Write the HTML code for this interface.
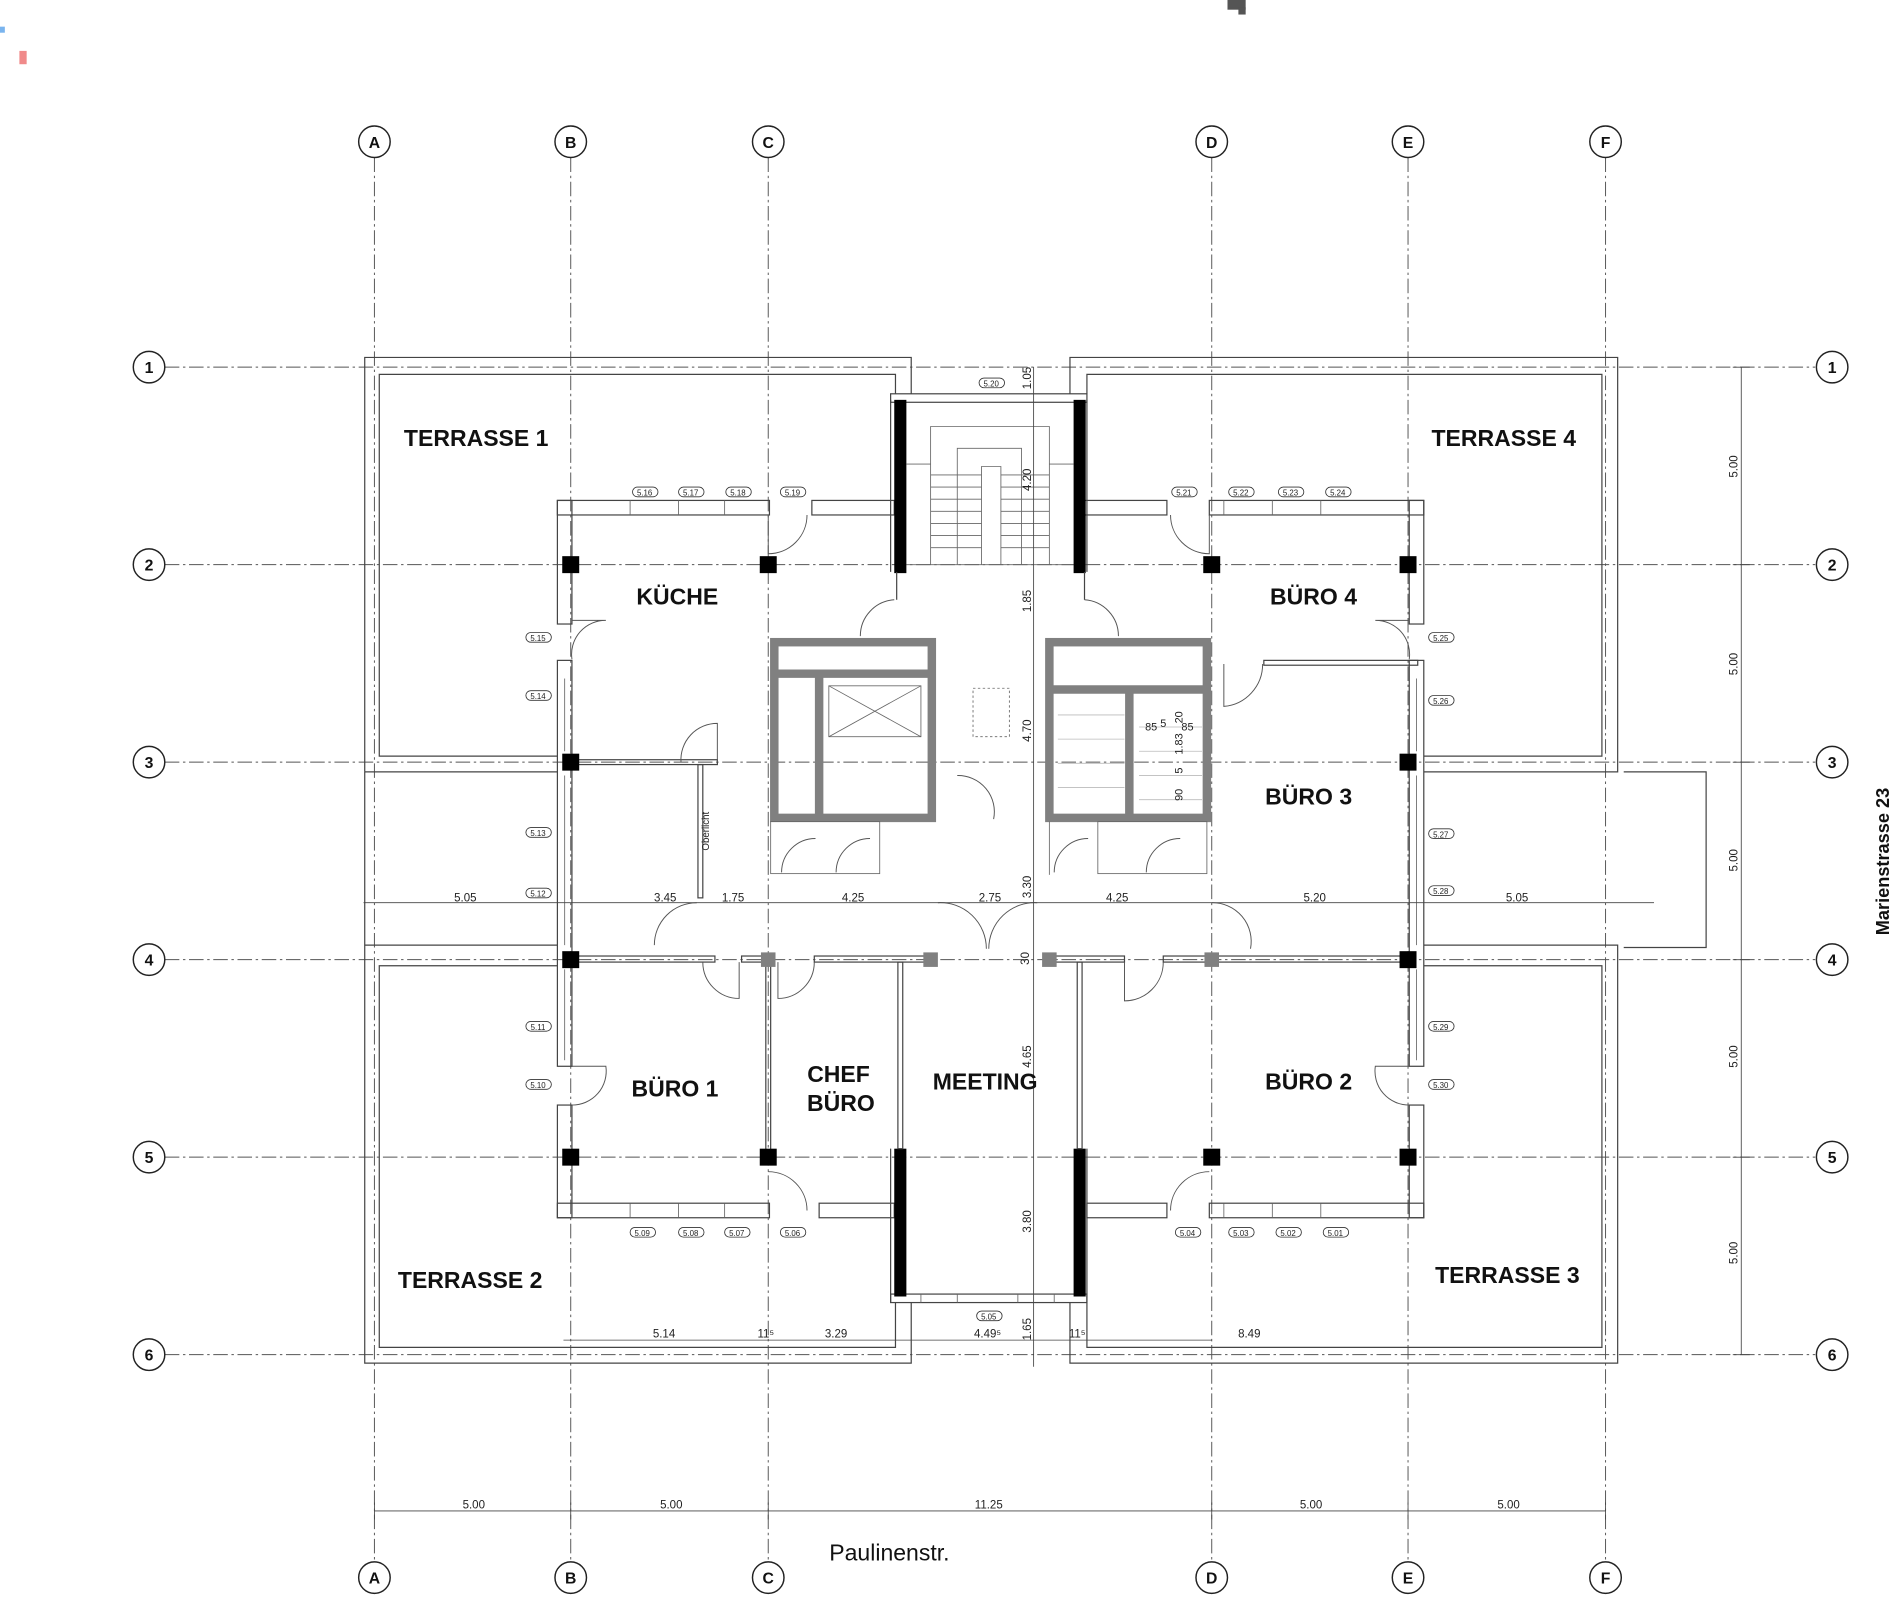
<!DOCTYPE html>
<html><head><meta charset="utf-8"><style>
html,body{margin:0;padding:0;background:#fff;}
svg{display:block}
.g{stroke:#555;stroke-width:.8;stroke-dasharray:12 3 2 3;fill:none}
.b{fill:#fff;stroke:#222;stroke-width:1.2}
.bt{font:bold 13px "Liberation Sans",sans-serif;text-anchor:middle;fill:#111}
.w{fill:none;stroke:#444;stroke-width:1}
.wt{fill:none;stroke:#666;stroke-width:.7}
.rl{font:bold 19px "Liberation Sans",sans-serif;text-anchor:middle;fill:#111}
.d{font:9.5px "Liberation Sans",sans-serif;text-anchor:middle;fill:#222}
.tag{fill:#fff;stroke:#333;stroke-width:.7}
.tt{font:6.5px "Liberation Sans",sans-serif;text-anchor:middle;fill:#222}
.dl{stroke:#444;stroke-width:.7;fill:none}
.dr{fill:none;stroke:#555;stroke-width:.8}
.col{fill:#000}
.gc{fill:#808080}
</style></head><body>
<svg width="1900" height="1597" viewBox="0 0 1568 1318" preserveAspectRatio="none" xmlns="http://www.w3.org/2000/svg">
<rect x="0" y="0" width="1568" height="1318" fill="#fff"/>
<rect x="0" y="22" width="4" height="5" fill="#7ab4ee"/>
<rect x="16" y="42" width="6" height="11" fill="#f08a8a"/>
<rect x="1013" y="0" width="15" height="8" fill="#555"/><rect x="1022" y="6" width="6" height="6" fill="#555"/>

<!-- grid -->
<g class="g">
<line x1="309" y1="130" x2="309" y2="1290"/><line x1="471" y1="130" x2="471" y2="1290"/>
<line x1="634" y1="130" x2="634" y2="1290"/><line x1="1000" y1="130" x2="1000" y2="1290"/>
<line x1="1162" y1="130" x2="1162" y2="1290"/><line x1="1325" y1="130" x2="1325" y2="1290"/>
<line x1="136" y1="303" x2="1498" y2="303"/><line x1="136" y1="466" x2="1498" y2="466"/>
<line x1="136" y1="629" x2="1498" y2="629"/><line x1="136" y1="792" x2="1498" y2="792"/>
<line x1="136" y1="955" x2="1498" y2="955"/><line x1="136" y1="1118" x2="1498" y2="1118"/>
</g>
<g>
<circle class="b" cx="309" cy="117" r="13"/><text class="bt" x="309" y="122">A</text>
<circle class="b" cx="471" cy="117" r="13"/><text class="bt" x="471" y="122">B</text>
<circle class="b" cx="634" cy="117" r="13"/><text class="bt" x="634" y="122">C</text>
<circle class="b" cx="1000" cy="117" r="13"/><text class="bt" x="1000" y="122">D</text>
<circle class="b" cx="1162" cy="117" r="13"/><text class="bt" x="1162" y="122">E</text>
<circle class="b" cx="1325" cy="117" r="13"/><text class="bt" x="1325" y="122">F</text>
<circle class="b" cx="309" cy="1302" r="13"/><text class="bt" x="309" y="1307">A</text>
<circle class="b" cx="471" cy="1302" r="13"/><text class="bt" x="471" y="1307">B</text>
<circle class="b" cx="634" cy="1302" r="13"/><text class="bt" x="634" y="1307">C</text>
<circle class="b" cx="1000" cy="1302" r="13"/><text class="bt" x="1000" y="1307">D</text>
<circle class="b" cx="1162" cy="1302" r="13"/><text class="bt" x="1162" y="1307">E</text>
<circle class="b" cx="1325" cy="1302" r="13"/><text class="bt" x="1325" y="1307">F</text>
<circle class="b" cx="123" cy="303" r="13"/><text class="bt" x="123" y="308">1</text>
<circle class="b" cx="123" cy="466" r="13"/><text class="bt" x="123" y="471">2</text>
<circle class="b" cx="123" cy="629" r="13"/><text class="bt" x="123" y="634">3</text>
<circle class="b" cx="123" cy="792" r="13"/><text class="bt" x="123" y="797">4</text>
<circle class="b" cx="123" cy="955" r="13"/><text class="bt" x="123" y="960">5</text>
<circle class="b" cx="123" cy="1118" r="13"/><text class="bt" x="123" y="1123">6</text>
<circle class="b" cx="1512" cy="303" r="13"/><text class="bt" x="1512" y="308">1</text>
<circle class="b" cx="1512" cy="466" r="13"/><text class="bt" x="1512" y="471">2</text>
<circle class="b" cx="1512" cy="629" r="13"/><text class="bt" x="1512" y="634">3</text>
<circle class="b" cx="1512" cy="792" r="13"/><text class="bt" x="1512" y="797">4</text>
<circle class="b" cx="1512" cy="955" r="13"/><text class="bt" x="1512" y="960">5</text>
<circle class="b" cx="1512" cy="1118" r="13"/><text class="bt" x="1512" y="1123">6</text>
</g>

<!-- terraces -->
<g class="w">
<polyline points="301,637 301,295 752,295 752,325"/>
<polyline points="460,624 313,624 313,309 739,309 739,325"/>
<polyline points="301,637 460,637"/>
<polyline points="301,637 301,1125 752,1125 752,1075"/>
<polyline points="460,797 313,797 313,1112 739,1112 739,1075"/>
<polyline points="301,780 460,780"/>
<polyline points="883,325 883,295 1335,295 1335,637 1175,637"/>
<polyline points="897,325 897,309 1322,309 1322,624 1175,624"/>
<polyline points="883,1075 883,1125 1335,1125 1335,780 1175,780"/>
<polyline points="897,1075 897,1112 1322,1112 1322,797 1175,797"/>
<polyline points="1340,637 1408,637 1408,782 1340,782"/>
</g>

<!-- exterior walls -->
<g class="w">
<rect x="460" y="413" width="175" height="12"/><rect x="670" y="413" width="68" height="12"/>
<rect x="895" y="413" width="68" height="12"/><rect x="998" y="413" width="177" height="12"/>
<rect x="460" y="413" width="12" height="102"/><rect x="460" y="545" width="12" height="335"/><rect x="460" y="912" width="12" height="93"/>
<rect x="1163" y="413" width="12" height="102"/><rect x="1163" y="545" width="12" height="335"/><rect x="1163" y="912" width="12" height="93"/>
<rect x="460" y="993" width="175" height="12"/><rect x="676" y="993" width="62" height="12"/>
<rect x="897" y="993" width="66" height="12"/><rect x="998" y="993" width="177" height="12"/>
<rect x="735" y="325" width="162" height="7"/>
<rect x="735" y="1068" width="162" height="7"/>
<line x1="735" y1="330" x2="735" y2="472"/><line x1="897" y1="330" x2="897" y2="472"/>
<line x1="735" y1="948" x2="735" y2="1075"/><line x1="897" y1="948" x2="897" y2="1075"/>
</g>
<g class="wt">
<line x1="520" y1="413" x2="520" y2="425"/><line x1="560" y1="413" x2="560" y2="425"/><line x1="598" y1="413" x2="598" y2="425"/>
<line x1="1010" y1="413" x2="1010" y2="425"/><line x1="1050" y1="413" x2="1050" y2="425"/><line x1="1090" y1="413" x2="1090" y2="425"/>
<line x1="520" y1="993" x2="520" y2="1005"/><line x1="560" y1="993" x2="560" y2="1005"/><line x1="598" y1="993" x2="598" y2="1005"/>
<line x1="1010" y1="993" x2="1010" y2="1005"/><line x1="1050" y1="993" x2="1050" y2="1005"/><line x1="1090" y1="993" x2="1090" y2="1005"/>
<line x1="466" y1="560" x2="466" y2="620"/><line x1="466" y1="640" x2="466" y2="780"/><line x1="466" y1="800" x2="466" y2="875"/>
<line x1="1169" y1="560" x2="1169" y2="620"/><line x1="1169" y1="640" x2="1169" y2="780"/><line x1="1169" y1="800" x2="1169" y2="875"/>
<line x1="760" y1="1068" x2="760" y2="1075"/><line x1="790" y1="1068" x2="790" y2="1075"/><line x1="840" y1="1068" x2="840" y2="1075"/><line x1="870" y1="1068" x2="870" y2="1075"/>
</g>
<!-- black walls -->
<rect class="col" x="738" y="330" width="10" height="143"/>
<rect class="col" x="886" y="330" width="10" height="143"/>
<rect class="col" x="738" y="948" width="10" height="122"/>
<rect class="col" x="886" y="948" width="10" height="122"/>

<!-- stairs -->
<g class="wt">
<polyline points="768,466 768,352 866,352 866,466"/>
<polyline points="790,466 790,370 843,370 843,466"/>
<polyline points="810,466 810,385 826,385 826,466"/>
<line x1="748" y1="383" x2="768" y2="383"/><line x1="866" y1="383" x2="886" y2="383"/>
<line x1="768" y1="392" x2="810" y2="392"/><line x1="768" y1="402" x2="810" y2="402"/><line x1="768" y1="412" x2="810" y2="412"/>
<line x1="768" y1="422" x2="810" y2="422"/><line x1="768" y1="432" x2="810" y2="432"/><line x1="768" y1="442" x2="810" y2="442"/><line x1="768" y1="452" x2="810" y2="452"/>
<line x1="826" y1="392" x2="866" y2="392"/><line x1="826" y1="402" x2="866" y2="402"/><line x1="826" y1="412" x2="866" y2="412"/>
<line x1="826" y1="422" x2="866" y2="422"/><line x1="826" y1="432" x2="866" y2="432"/><line x1="826" y1="442" x2="866" y2="442"/><line x1="826" y1="452" x2="866" y2="452"/>
<line x1="748" y1="466" x2="886" y2="466"/>
</g>

<!-- core boxes -->
<g fill="none" stroke="#808080" stroke-width="7">
<rect x="639" y="530" width="130" height="145"/>
<line x1="639" y1="556" x2="769" y2="556"/><line x1="676" y1="556" x2="676" y2="675"/>
<rect x="866" y="530" width="130" height="145"/>
<line x1="866" y1="569" x2="996" y2="569"/><line x1="932" y1="569" x2="932" y2="675"/>
</g>
<g class="wt">
<rect x="684" y="566" width="76" height="42"/><line x1="684" y1="566" x2="760" y2="608"/><line x1="760" y1="566" x2="684" y2="608"/>
<rect x="803" y="568" width="30" height="40" stroke-dasharray="2 2"/>
<rect x="636" y="678" width="90" height="43"/><rect x="906" y="678" width="90" height="43"/>
<line x1="866" y1="678" x2="866" y2="722"/>
<path d="M873 590h55M873 610h55M873 630h55M873 650h55M940 600h52M940 620h52M940 640h52M940 660h52" stroke="#bbb"/>
</g>
<g class="d" style="font-size:9px"><text x="950" y="603">85</text><text x="960" y="600">5</text><text x="980" y="603">85</text>
<text transform="translate(976,592) rotate(-90)">20</text><text transform="translate(976,614) rotate(-90)">1.83</text>
<text transform="translate(976,636) rotate(-90)">5</text><text transform="translate(976,656) rotate(-90)">90</text></g>

<!-- interior walls -->
<g class="w">
<rect x="472" y="789" width="118" height="5"/><rect x="612" y="789" width="17" height="5"/>
<rect x="672" y="789" width="92" height="5"/><rect x="870" y="789" width="58" height="5"/>
<rect x="960" y="789" width="203" height="5"/>
<rect x="632" y="794" width="4" height="155"/>
<rect x="741" y="794" width="4" height="154"/><rect x="889" y="794" width="4" height="154"/>
<rect x="472" y="627" width="120" height="4"/>
<rect x="576" y="631" width="4" height="110"/>
<rect x="1043" y="545" width="127" height="4"/>
<line x1="740" y1="472" x2="740" y2="495"/><line x1="895" y1="472" x2="895" y2="495"/>
</g>

<!-- doors -->
<g class="dr">
<path d="M634 425 v32 a32 32 0 0 0 32 -32"/>
<path d="M998 425 v32 a32 32 0 0 1 -32 -32"/>
<path d="M472 512 h28 a28 28 0 0 0 -28 32"/>
<path d="M472 880 h28 a28 28 0 0 1 -28 32"/>
<path d="M1163 512 h-28 a28 28 0 0 1 28 32"/>
<path d="M1163 880 h-28 a28 28 0 0 0 28 32"/>
<path d="M738 495 a30 30 0 0 0 -28 30"/>
<path d="M895 495 a30 30 0 0 1 28 30"/>
<path d="M634 967 a32 32 0 0 1 32 32"/>
<path d="M998 967 a32 32 0 0 0 -32 32"/>
<path d="M592 629 v-32 a30 30 0 0 0 -30 32"/>
<path d="M1010 548 v35 a35 35 0 0 0 32 -35"/>
<path d="M790 640 a30 30 0 0 1 30 36"/>
<path d="M540 780 a35 35 0 0 1 35 -35"/><path d="M610 794 v30 a30 30 0 0 1 -30 -30"/>
<path d="M642 794 v30 a30 30 0 0 0 30 -30"/>
<path d="M774 745 a38 38 0 0 1 40 38"/><path d="M856 745 a38 38 0 0 0 -40 38"/>
<path d="M1000 745 a32 32 0 0 1 32 38"/>
<path d="M928 794 v32 a32 32 0 0 0 32 -32"/>
<path d="M645 720 a28 28 0 0 1 28 -28"/><path d="M690 720 a28 28 0 0 1 28 -28"/>
<path d="M870 720 a28 28 0 0 1 28 -28"/><path d="M946 720 a28 28 0 0 1 28 -28"/>
</g>

<!-- columns -->
<g class="col">
<rect x="464" y="459" width="14" height="14"/><rect x="627" y="459" width="14" height="14"/>
<rect x="993" y="459" width="14" height="14"/><rect x="1155" y="459" width="14" height="14"/>
<rect x="464" y="622" width="14" height="14"/><rect x="1155" y="622" width="14" height="14"/>
<rect x="464" y="785" width="14" height="14"/><rect x="1155" y="785" width="14" height="14"/>
<rect x="464" y="948" width="14" height="14"/><rect x="627" y="948" width="14" height="14"/>
<rect x="993" y="948" width="14" height="14"/><rect x="1155" y="948" width="14" height="14"/>
</g>
<g class="gc">
<rect x="628" y="786" width="12" height="12"/><rect x="762" y="786" width="12" height="12"/>
<rect x="860" y="786" width="12" height="12"/><rect x="994" y="786" width="12" height="12"/>
</g>

<!-- dimension lines -->
<g class="dl">
<line x1="300" y1="745" x2="1365" y2="745"/>
<line x1="465" y1="1106" x2="1000" y2="1106"/>
<line x1="309" y1="1247" x2="1325" y2="1247"/>
<line x1="1437" y1="303" x2="1437" y2="1118"/>
<line x1="853" y1="303" x2="853" y2="1128"/>
<line x1="1430" y1="303" x2="1444" y2="303"/><line x1="1430" y1="466" x2="1444" y2="466"/><line x1="1430" y1="629" x2="1444" y2="629"/>
<line x1="1430" y1="792" x2="1444" y2="792"/><line x1="1430" y1="955" x2="1444" y2="955"/><line x1="1430" y1="1118" x2="1444" y2="1118"/>
<line x1="309" y1="1240" x2="309" y2="1254"/><line x1="471" y1="1240" x2="471" y2="1254"/><line x1="634" y1="1240" x2="634" y2="1254"/>
<line x1="1000" y1="1240" x2="1000" y2="1254"/><line x1="1162" y1="1240" x2="1162" y2="1254"/><line x1="1325" y1="1240" x2="1325" y2="1254"/>
</g>
<g class="d">
<text x="384" y="744">5.05</text><text x="549" y="744">3.45</text><text x="605" y="744">1.75</text>
<text x="704" y="744">4.25</text><text x="817" y="744">2.75</text><text x="922" y="744">4.25</text>
<text x="1085" y="744">5.20</text><text x="1252" y="744">5.05</text>
<text x="548" y="1104">5.14</text><text x="632" y="1104">11⁵</text><text x="690" y="1104">3.29</text>
<text x="815" y="1104">4.49⁵</text><text x="889" y="1104">11⁵</text><text x="1031" y="1104">8.49</text>
<text x="391" y="1245">5.00</text><text x="554" y="1245">5.00</text><text x="816" y="1245">11.25</text>
<text x="1082" y="1245">5.00</text><text x="1245" y="1245">5.00</text>
<text transform="translate(1434,385) rotate(-90)">5.00</text><text transform="translate(1434,548) rotate(-90)">5.00</text>
<text transform="translate(1434,710) rotate(-90)">5.00</text><text transform="translate(1434,872) rotate(-90)">5.00</text>
<text transform="translate(1434,1034) rotate(-90)">5.00</text>
<text transform="translate(851,312) rotate(-90)">1.05</text><text transform="translate(851,396) rotate(-90)">4.20</text>
<text transform="translate(851,496) rotate(-90)">1.85</text><text transform="translate(851,603) rotate(-90)">4.70</text>
<text transform="translate(851,732) rotate(-90)">3.30</text><text transform="translate(849,791) rotate(-90)">30</text>
<text transform="translate(851,872) rotate(-90)">4.65</text><text transform="translate(851,1008) rotate(-90)">3.80</text>
<text transform="translate(851,1097) rotate(-90)">1.65</text>
<text transform="translate(585,686) rotate(-90)" style="font-size:8px">Oberlicht</text>
</g>

<!-- window tags -->
<g>
<g class="tag">
<rect x="522" y="402" width="21" height="8" rx="4"/><rect x="560" y="402" width="21" height="8" rx="4"/><rect x="599" y="402" width="21" height="8" rx="4"/><rect x="644" y="402" width="21" height="8" rx="4"/>
<rect x="808" y="312" width="21" height="8" rx="4"/>
<rect x="967" y="402" width="21" height="8" rx="4"/><rect x="1014" y="402" width="21" height="8" rx="4"/><rect x="1055" y="402" width="21" height="8" rx="4"/><rect x="1094" y="402" width="21" height="8" rx="4"/>
<rect x="434" y="522" width="21" height="8" rx="4"/><rect x="434" y="570" width="21" height="8" rx="4"/><rect x="434" y="683" width="21" height="8" rx="4"/><rect x="434" y="733" width="21" height="8" rx="4"/><rect x="434" y="843" width="21" height="8" rx="4"/><rect x="434" y="891" width="21" height="8" rx="4"/>
<rect x="1179" y="522" width="21" height="8" rx="4"/><rect x="1179" y="574" width="21" height="8" rx="4"/><rect x="1179" y="684" width="21" height="8" rx="4"/><rect x="1179" y="731" width="21" height="8" rx="4"/><rect x="1179" y="843" width="21" height="8" rx="4"/><rect x="1179" y="891" width="21" height="8" rx="4"/>
<rect x="520" y="1013" width="21" height="8" rx="4"/><rect x="560" y="1013" width="21" height="8" rx="4"/><rect x="598" y="1013" width="21" height="8" rx="4"/><rect x="644" y="1013" width="21" height="8" rx="4"/>
<rect x="806" y="1082" width="21" height="8" rx="4"/>
<rect x="970" y="1013" width="21" height="8" rx="4"/><rect x="1014" y="1013" width="21" height="8" rx="4"/><rect x="1053" y="1013" width="21" height="8" rx="4"/><rect x="1092" y="1013" width="21" height="8" rx="4"/>
</g>
<g class="tt">
<text x="532" y="409">5.16</text><text x="570" y="409">5.17</text><text x="609" y="409">5.18</text><text x="654" y="409">5.19</text>
<text x="818" y="319">5.20</text>
<text x="977" y="409">5.21</text><text x="1024" y="409">5.22</text><text x="1065" y="409">5.23</text><text x="1104" y="409">5.24</text>
<text x="444" y="529">5.15</text><text x="444" y="577">5.14</text><text x="444" y="690">5.13</text><text x="444" y="740">5.12</text><text x="444" y="850">5.11</text><text x="444" y="898">5.10</text>
<text x="1189" y="529">5.25</text><text x="1189" y="581">5.26</text><text x="1189" y="691">5.27</text><text x="1189" y="738">5.28</text><text x="1189" y="850">5.29</text><text x="1189" y="898">5.30</text>
<text x="530" y="1020">5.09</text><text x="570" y="1020">5.08</text><text x="608" y="1020">5.07</text><text x="654" y="1020">5.06</text>
<text x="816" y="1089">5.05</text>
<text x="980" y="1020">5.04</text><text x="1024" y="1020">5.03</text><text x="1063" y="1020">5.02</text><text x="1102" y="1020">5.01</text>
</g>
</g>

<!-- room labels -->
<g class="rl">
<text x="393" y="368">TERRASSE 1</text><text x="1241" y="368">TERRASSE 4</text>
<text x="388" y="1063">TERRASSE 2</text><text x="1244" y="1059">TERRASSE 3</text>
<text x="559" y="499">KÜCHE</text><text x="1084" y="499">BÜRO 4</text><text x="1080" y="664">BÜRO 3</text>
<text x="557" y="905">BÜRO 1</text><text x="692" y="893">CHEF</text><text x="694" y="917">BÜRO</text>
<text x="813" y="899">MEETING</text><text x="1080" y="899">BÜRO 2</text>
</g>
<text x="734" y="1288" style="font:19px 'Liberation Sans',sans-serif;text-anchor:middle;fill:#111">Paulinenstr.</text>
<text transform="translate(1559,711) rotate(-90)" style="font:bold 15px 'Liberation Sans',sans-serif;text-anchor:middle;fill:#111">Marienstrasse 23</text>
</svg>
</body></html>
